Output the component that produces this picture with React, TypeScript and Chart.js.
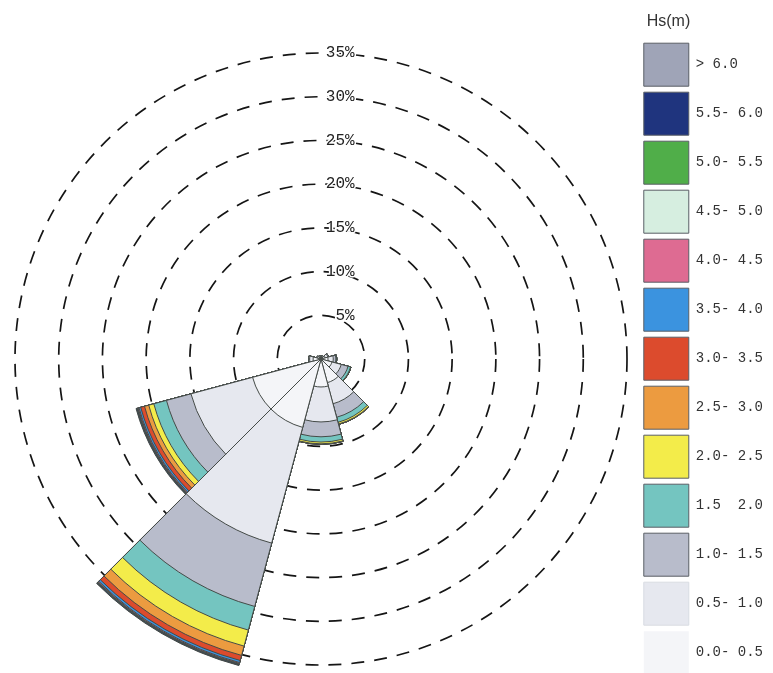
import React, { useEffect, useRef } from 'react';
import { Chart, registerables } from 'chart.js';

Chart.register(...registerables);

// Wave directions (sector centres, degrees clockwise from north)
const DIRECTIONS = ['0°', '30°', '60°', '90°', '120°', '150°', '180°', '210°', '240°', '270°', '300°', '330°'];

// Hs classes (legend text) and colours, from lowest to highest class
const HS_CLASSES = ['0.0- 0.5', '0.5- 1.0', '1.0- 1.5', '1.5  2.0', '2.0- 2.5', '2.5- 3.0', '3.0- 3.5', '3.5- 4.0', '4.0- 4.5', '4.5- 5.0', '5.0- 5.5', '5.5- 6.0', '> 6.0'];
const HS_COLORS = ['#f4f5f8', '#e6e8ef', '#b8bccb', '#74c5c0', '#f3ec4a', '#ec9b40', '#dc4b2d', '#3b93df', '#de6b92', '#d6eee0', '#50ae49', '#1f347e', '#9fa4b7'];

// Frequency of occurrence (%) per Hs class, per direction (0°,30°,...,330°)
const HS_00_05 = [0.3, 0.3, 0.5, 0.8, 1.3, 2.8, 3.2, 8.1, 8.1, 0.9, 0.4, 0.3];
const HS_05_10 = [0.1, 0.1, 0.3, 0.6, 1.1, 2.5, 4.0, 13.7, 7.3, 0.4, 0.1, 0.1];
const HS_10_15 = [0, 0, 0.1, 0.3, 0.8, 1.6, 1.7, 7.5, 2.9, 0.1, 0, 0];
const HS_15_20 = [0, 0, 0, 0.1, 0.3, 0.6, 0.6, 2.8, 1.5, 0, 0, 0];
const HS_20_25 = [0, 0, 0, 0, 0.05, 0.2, 0.2, 1.9, 0.6, 0, 0, 0];
const HS_25_30 = [0, 0, 0, 0, 0, 0.05, 0.05, 1.1, 0.5, 0, 0, 0];
const HS_30_35 = [0, 0, 0, 0, 0, 0, 0, 0.6, 0.45, 0, 0, 0];
const HS_35_40 = [0, 0, 0, 0, 0, 0, 0, 0.25, 0.2, 0, 0, 0];
const HS_40_45 = [0, 0, 0, 0, 0, 0, 0, 0.1, 0.1, 0, 0, 0];
const HS_45_50 = [0, 0, 0, 0, 0, 0, 0, 0.05, 0.05, 0, 0, 0];
const HS_50_55 = [0, 0, 0, 0, 0, 0, 0, 0.05, 0.05, 0, 0, 0];
const HS_55_60 = [0, 0, 0, 0, 0, 0, 0, 0.1, 0.1, 0, 0, 0];
const HS_GT_60 = [0, 0, 0, 0, 0, 0, 0, 0.05, 0.05, 0, 0, 0];

const TICK_STEP = 5;
const SCALE_MAX = 35;

const SECTOR_WIDTH = 360 / DIRECTIONS.length;

export default function App() {
  const canvasRef = useRef<HTMLCanvasElement | null>(null);

  useEffect(() => {
    const canvas = canvasRef.current;
    if (!canvas) return;

    const bands = [HS_00_05, HS_05_10, HS_10_15, HS_15_20, HS_20_25, HS_25_30, HS_30_35, HS_35_40, HS_40_45, HS_45_50, HS_50_55, HS_55_60, HS_GT_60];

    // Sectors are centred on their direction, so the north one is split into two halves
    const slotDir = [0, ...DIRECTIONS.map((_, i) => i).slice(1), 0];
    const slotAngle = slotDir.map((_, i) => (i === 0 || i === slotDir.length - 1 ? SECTOR_WIDTH / 2 : SECTOR_WIDTH));
    const slotLabels = slotDir.map((d) => DIRECTIONS[d]);

    const cumulative: number[][] = [];
    bands.forEach((band, b) => {
      cumulative.push(band.map((v, d) => (b === 0 ? v : cumulative[b - 1][d] + v)));
    });

    const datasets = bands.map((_, b) => ({
      label: HS_CLASSES[b],
      data: slotDir.map((d) => +cumulative[b][d].toFixed(3)),
      backgroundColor: HS_COLORS[b],
      borderColor: '#454b48',
      borderWidth: 1,
      angle: slotAngle,
    }));

    const chart = new Chart(canvas, {
      type: 'polarArea',
      data: { labels: slotLabels, datasets },
      options: {
        responsive: false,
        animation: false,
        layout: { padding: { top: 10, left: 5, right: 0, bottom: 0 } },
        scales: {
          r: {
            min: 0,
            max: SCALE_MAX,
            startAngle: 0,
            grid: {
              circular: true,
              color: '#151515',
              lineWidth: 1.7,
            },
            border: { dash: [13, 10] },
            angleLines: { display: false },
            pointLabels: { display: false },
            ticks: {
              stepSize: TICK_STEP,
              showLabelBackdrop: false,
              color: '#222',
              textStrokeColor: '#ffffff',
              textStrokeWidth: 3,
              font: { family: 'Liberation Mono', size: 16 },
              callback: (v: any) => (v === 0 ? '' : (v + '%').padStart(7, ' ')),
            },
          },
        },
        plugins: {
          tooltip: { enabled: false },
          legend: {
            position: 'right',
            align: 'start',
            title: {
              display: true,
              text: '  Hs(m)',
              color: '#333',
              position: 'start',
              font: { family: 'Liberation Sans', size: 16 },
              padding: { top: 4, bottom: 4 },
            },
            labels: {
              boxWidth: 45,
              boxHeight: 43,
              padding: 6,
              color: '#333',
              font: { family: 'Liberation Mono', size: 14 },
              generateLabels: (c: any) =>
                c.data.datasets
                  .map((ds: any, i: number) => ({
                    text: ds.label,
                    fillStyle: ds.backgroundColor,
                    strokeStyle: i === 0 ? 'rgba(0,0,0,0)' : i === 1 ? '#d9dce3' : '#5a5f66',
                    lineWidth: i === 0 ? 0 : 1,
                    hidden: false,
                    datasetIndex: i,
                    fontColor: '#333',
                  }))
                  .reverse(),
            },
          },
        },
      } as any,
    });

    return () => chart.destroy();
  }, []);

  return (
    <div style={{ position: 'fixed', left: 0, top: 0, width: 773, height: 673, overflow: 'hidden', background: '#fff' }}>
      <canvas ref={canvasRef} width={773} height={708} style={{ display: 'block' }} />
    </div>
  );
}
